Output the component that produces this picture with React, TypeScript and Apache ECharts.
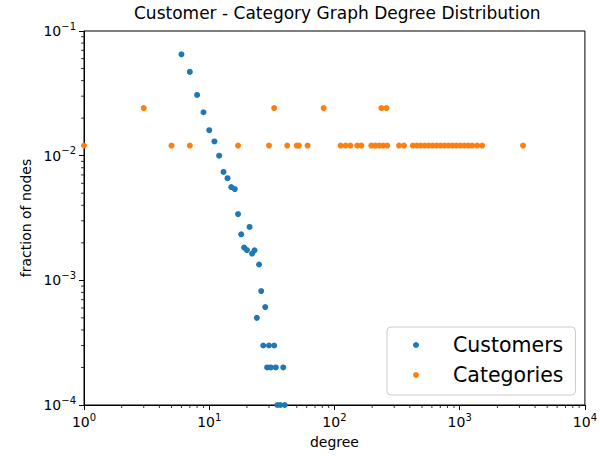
import React, { useEffect, useRef } from "react";
import * as echarts from "echarts";

const customerDegree = [6, 7, 8, 9, 10, 11, 12, 13, 14, 15, 16, 17, 18, 19, 20, 21, 22, 23, 24, 25, 26, 27, 28, 29, 30, 31, 33, 34, 35, 37, 39, 40];
const customerFraction = [0.065, 0.047, 0.0307, 0.0223, 0.016, 0.013, 0.01, 0.0074, 0.0066, 0.0056, 0.0054, 0.0034, 0.00234, 0.00183, 0.00175, 0.00268, 0.00164, 0.00174, 0.0005, 0.00134, 0.00082, 0.0003, 0.00061, 0.0002, 0.0003, 0.0002, 0.0003, 0.0002, 0.0001, 0.0001, 0.0002, 0.0001];

const categoryDegree = [1, 3, 5, 7, 17, 30, 33, 42, 50, 52, 61, 82, 112, 123, 134, 152, 164, 197, 212, 228, 237, 245, 260, 264, 328, 359, 423, 455, 489, 526, 566, 608, 655, 704, 757, 815, 877, 942, 1013, 1090, 1172, 1260, 1380, 1513, 3206];
const categoryFraction = [0.01205, 0.0241, 0.01205, 0.01205, 0.01205, 0.01205, 0.0241, 0.01205, 0.01205, 0.01205, 0.01205, 0.0241, 0.01205, 0.01205, 0.01205, 0.01205, 0.01205, 0.01205, 0.01205, 0.01205, 0.0241, 0.01205, 0.0241, 0.01205, 0.01205, 0.01205, 0.01205, 0.01205, 0.01205, 0.01205, 0.01205, 0.01205, 0.01205, 0.01205, 0.01205, 0.01205, 0.01205, 0.01205, 0.01205, 0.01205, 0.01205, 0.01205, 0.01205, 0.01205, 0.01205];

const xMin = 1;
const xMax = 10000;
const yMin = 0.0001;
const yMax = 0.1;

const FONT = "DejaVu Sans";

function minorTicks(lo: number, hi: number): number[] {
  const out: number[] = [];
  for (let d = lo; d < hi * 0.999; d *= 10) {
    for (let k = 2; k <= 9; k++) out.push(d * k);
  }
  return out;
}

function logLabel(v: number): string {
  const e = Math.round(Math.log10(v));
  const s = e < 0 ? "\u2212" + String(-e) : String(e);
  return "{b|10}{s|" + s + "}";
}

const richLabel = {
  b: { fontFamily: FONT, fontSize: 14, color: "#000", lineHeight: 20 },
  s: { fontFamily: FONT, fontSize: 10, color: "#000", lineHeight: 11, verticalAlign: "top" as const },
};

export default function App() {
  const ref = useRef<HTMLDivElement>(null);
  useEffect(() => {
    if (!ref.current) return;
    const chart = echarts.init(ref.current, undefined, { renderer: "svg" });
    const xMinor = minorTicks(xMin, xMax).map((v) => [v, yMin]);
    const yMinor = minorTicks(yMin, yMax).map((v) => [xMin, v]);
    chart.setOption({
      animation: false,
      backgroundColor: "#fff",
      title: {
        text: "Customer - Category Graph Degree Distribution",
        left: 134,
        top: 4,
        padding: 0,
        textStyle: { fontFamily: FONT, fontSize: 17, fontWeight: "normal", color: "#000" },
      },
      grid: {
        left: 84,
        right: 10,
        top: 31,
        bottom: 51,
        show: true,
        borderColor: "#000",
        borderWidth: 1,
        backgroundColor: "transparent",
      },
      legend: {
        left: 387,
        top: 327,
        orient: "vertical",
        padding: [6, 12, 8, 26],
        itemGap: 6,
        itemWidth: 36,
        itemHeight: 6,
        icon: "circle",
        borderColor: "#cccccc",
        borderWidth: 1,
        borderRadius: 4,
        backgroundColor: "rgba(255,255,255,0.8)",
        formatter: "{g| }{t|{name}}",
        textStyle: {
          fontFamily: FONT,
          fontSize: 20.5,
          color: "#000",
          lineHeight: 24,
          rich: {
            g: { width: 14, fontSize: 20.5, lineHeight: 24 },
            t: { fontFamily: FONT, fontSize: 20.5, color: "#000", lineHeight: 24 },
          },
        },
        data: ["Customers", "Categories"],
      },
      xAxis: {
        type: "log",
        logBase: 10,
        min: xMin,
        max: xMax,
        name: "degree",
        nameLocation: "middle",
        nameGap: 30,
        nameTextStyle: { fontFamily: FONT, fontSize: 14, color: "#000" },
        axisLine: { show: true, lineStyle: { color: "#000", width: 1 } },
        axisTick: { show: true, inside: false, length: 5, lineStyle: { color: "#000", width: 1 } },
        splitLine: { show: false },
        minorTick: { show: false },
        axisLabel: { margin: 7, formatter: logLabel, rich: richLabel },
      },
      yAxis: {
        type: "log",
        logBase: 10,
        min: yMin,
        max: yMax,
        name: "fraction of nodes",
        nameLocation: "middle",
        nameGap: 46,
        nameTextStyle: { fontFamily: FONT, fontSize: 14, color: "#000" },
        axisLine: { show: true, lineStyle: { color: "#000", width: 1 } },
        axisTick: { show: true, inside: false, length: 5, lineStyle: { color: "#000", width: 1 } },
        splitLine: { show: false },
        minorTick: { show: false },
        axisLabel: { margin: 8, formatter: logLabel, rich: richLabel },
      },
      series: [
        {
          name: "Customers",
          type: "scatter",
          symbol: "circle",
          symbolSize: 6,
          itemStyle: { color: "#1f77b4", opacity: 1 },
          data: customerDegree.map((d, i) => [d, customerFraction[i]]),
          z: 3,
        },
        {
          name: "Categories",
          type: "scatter",
          symbol: "circle",
          symbolSize: 6,
          itemStyle: { color: "#ff7f0e", opacity: 1 },
          data: categoryDegree.map((d, i) => [d, categoryFraction[i]]),
          z: 3,
        },
        {
          name: "xminor",
          type: "custom",
          silent: true,
          clip: false,
          data: xMinor,
          renderItem: (params: any, api: any) => {
            const p = api.coord([api.value(0), api.value(1)]);
            return {
              type: "line",
              shape: { x1: p[0], y1: p[1], x2: p[0], y2: p[1] + 3 },
              style: { stroke: "#000", lineWidth: 0.8 },
            };
          },
          z: 2,
        },
        {
          name: "yminor",
          type: "custom",
          silent: true,
          clip: false,
          data: yMinor,
          renderItem: (params: any, api: any) => {
            const p = api.coord([api.value(0), api.value(1)]);
            return {
              type: "line",
              shape: { x1: p[0] - 3, y1: p[1], x2: p[0], y2: p[1] },
              style: { stroke: "#000", lineWidth: 0.8 },
            };
          },
          z: 2,
        },
      ],
    });
    return () => chart.dispose();
  }, []);
  return (
    <div
      ref={ref}
      style={{ position: "fixed", left: 0, top: 0, width: 600, height: 456, background: "#fff" }}
    />
  );
}
